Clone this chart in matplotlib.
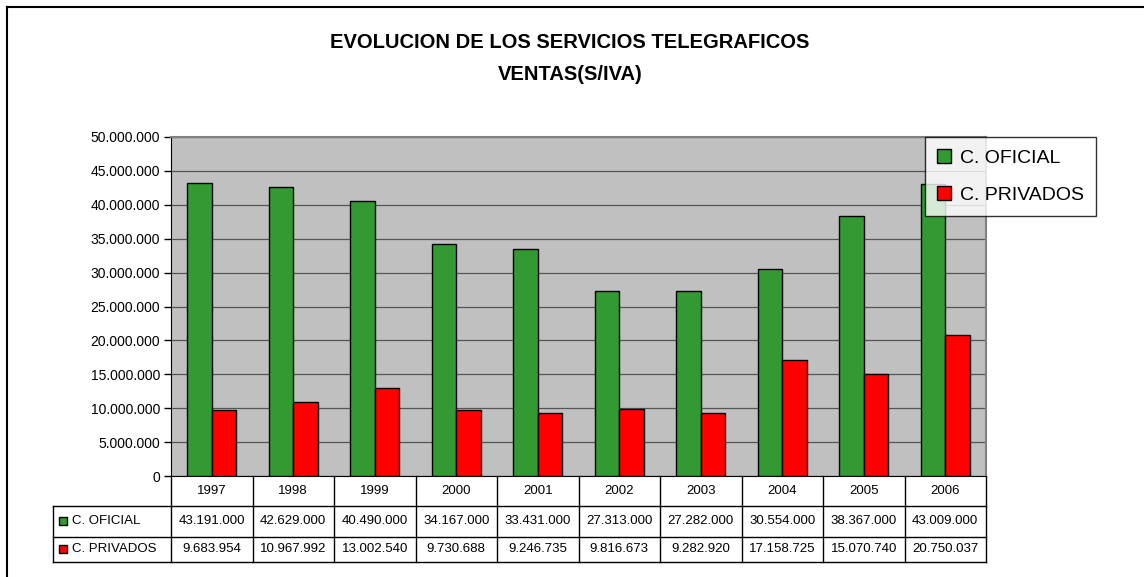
import numpy as np
import matplotlib.pyplot as plt
from matplotlib.lines import Line2D
from matplotlib.patches import Rectangle

plt.rcParams['font.family'] = ['Liberation Sans', 'DejaVu Sans']

# datos
anios = ['1997', '1998', '1999', '2000', '2001', '2002', '2003', '2004', '2005', '2006']
oficial = [43191000, 42629000, 40490000, 34167000, 33431000,
           27313000, 27282000, 30554000, 38367000, 43009000]
privados = [9683954, 10967992, 13002540, 9730688, 9246735,
            9816673, 9282920, 17158725, 15070740, 20750037]
series = ['C. OFICIAL', 'C. PRIVADOS']
colores = ['#339933', '#FF0000']

W, H = 1144, 577
fig = plt.figure(figsize=(W / 100, H / 100), dpi=100)

# marco exterior (solo izquierda y arriba visibles)
fig.add_artist(Line2D([7 / W, 7 / W], [0, 1 - 7 / H], color='black', lw=1.5))
fig.add_artist(Line2D([7 / W, 1], [1 - 7 / H, 1 - 7 / H], color='black', lw=1.5))

# area del grafico
x0, x1, y_top, y_bot = 171, 986, 137, 476
ax = fig.add_axes([x0 / W, 1 - y_bot / H, (x1 - x0) / W, (y_bot - y_top) / H])
ax.set_facecolor('#C0C0C0')

x = np.arange(len(anios))
ancho = 0.3
ax.bar(x - ancho / 2, oficial, ancho, color=colores[0], edgecolor='black', lw=1, zorder=3)
ax.bar(x + ancho / 2, privados, ancho, color=colores[1], edgecolor='black', lw=1, zorder=3)

ax.set_xlim(-0.5, len(anios) - 0.5)
ax.set_ylim(0, 50000000)
yt = np.arange(0, 50000001, 5000000)
ax.set_yticks(yt)
ax.set_yticklabels([f'{v:,.0f}'.replace(',', '.') for v in yt], fontsize=10)
ax.set_xticks([])
ax.tick_params(axis='y', direction='out', length=5, width=1, color='black', pad=3)
ax.yaxis.grid(True, color='#555555', lw=0.9, zorder=1)
for s in ['top', 'right']:
    ax.spines[s].set_color('#808080')
    ax.spines[s].set_linewidth(1.5)
ax.spines['left'].set_color('black')
ax.spines['bottom'].set_color('black')

# tabla de datos debajo
h_ax = y_bot - y_top
r1 = -30 / h_ax
r2 = -60.7 / h_ax
r3 = -85.7 / h_ax
x_lab = -0.5 - (x0 - 53) / ((x1 - x0) / len(anios))
trans = ax.get_xaxis_transform()
kw = dict(transform=trans, clip_on=False, color='black', lw=1)

for yy in [r1, r2, r3]:
    ax.add_line(Line2D([x_lab, len(anios) - 0.5], [yy, yy], **kw))
for i in range(len(anios) + 1):
    ax.add_line(Line2D([i - 0.5, i - 0.5], [0, r3], **kw))
ax.add_line(Line2D([x_lab, x_lab], [r1, r3], **kw))

for i, a in enumerate(anios):
    ax.text(i, r1 / 2, a, transform=trans, ha='center', va='center', fontsize=9.5)
    ax.text(i, (r1 + r2) / 2, f'{oficial[i]:,}'.replace(',', '.'),
            transform=trans, ha='center', va='center', fontsize=9.5)
    ax.text(i, (r2 + r3) / 2, f'{privados[i]:,}'.replace(',', '.'),
            transform=trans, ha='center', va='center', fontsize=9.5)

for j, (nom, col) in enumerate(zip(series, colores)):
    yc = (r1 + r2) / 2 if j == 0 else (r2 + r3) / 2
    ypix = y_bot - yc * h_ax
    fig.add_artist(Rectangle((59 / W, 1 - (ypix + 4) / H), 8 / W, 8 / H,
                             facecolor=col, edgecolor='black', lw=1,
                             transform=fig.transFigure))
    fig.text(72 / W, 1 - ypix / H, nom, ha='left', va='center', fontsize=9.5)

# titulo
fig.text(570 / W, 1 - 43 / H, 'EVOLUCION DE LOS SERVICIOS TELEGRAFICOS',
         ha='center', va='center', fontsize=14.5, fontweight='bold')
fig.text(570 / W, 1 - 75 / H, 'VENTAS(S/IVA)',
         ha='center', va='center', fontsize=14.5, fontweight='bold')

# leyenda
handles = [Rectangle((0, 0), 1, 1, facecolor=c, edgecolor='black', lw=1) for c in colores]
leg = fig.legend(handles, series, loc='upper left', bbox_to_anchor=(925 / W, 1 - 137 / H),
                 fontsize=14, frameon=True, fancybox=False, shadow=False,
                 handlelength=0.7, handleheight=0.7, handletextpad=0.5,
                 borderpad=0.62, labelspacing=1.0, borderaxespad=0)
leg.get_frame().set_edgecolor('black')
leg.get_frame().set_linewidth(1)

fig.savefig('out.png', dpi=100)
